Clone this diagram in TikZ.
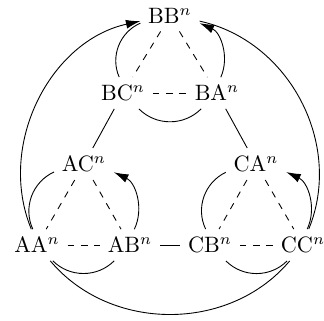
\documentclass[tikz,border=0pt]{standalone}
\usetikzlibrary{arrows.meta}
\begin{document}
\begin{tikzpicture}[x=0.45pt,y=-0.45pt,
  vx/.style={inner sep=0.3333em},
  inner/.style={dashed},
  arr/.style={-{Latex[length=6.5pt,width=4pt]}}]
\useasboundingbox (0,0) rectangle (324,320);
\node[vx] (BB) at (170,16) {BB$^n$};
\node[vx] (BC) at (123,93) {BC$^n$};
\node[vx] (BA) at (217,93) {BA$^n$};
\node[vx] (AC) at (84,164) {AC$^n$};
\node[vx] (AA) at (37,245) {AA$^n$};
\node[vx] (AB) at (130,245) {AB$^n$};
\node[vx] (CA) at (256,164) {CA$^n$};
\node[vx] (CB) at (210,245) {CB$^n$};
\node[vx] (CC) at (303,245) {CC$^n$};
% dashed inner edges
\draw[inner] (BB) -- (BC);
\draw[inner] (BB) -- (BA);
\draw[inner] (BC) -- (BA);
\draw[inner] (AC) -- (AA);
\draw[inner] (AC) -- (AB);
\draw[inner] (AA) -- (AB);
\draw[inner] (CA) -- (CB);
\draw[inner] (CA) -- (CC);
\draw[inner] (CB) -- (CC);
% solid connecting edges
\draw (BC) -- (AC);
\draw (BA) -- (CA);
\draw (AB) -- (CB);
% small arcs
\draw (BC) to[bend left=45] (BB);
\draw[arr] (BA) to[bend right=45] (BB);
\draw (BC) to[bend right=45] (BA);
\draw (AA) to[bend left=45] (AC);
\draw[arr] (AB) to[bend right=45] (AC);
\draw (AA) to[bend right=45] (AB);
\draw (CB) to[bend left=45] (CA);
\draw[arr] (CC) to[bend right=45] (CA);
\draw (CB) to[bend right=45] (CC);
% big arcs
\draw[arr] (AA) to[bend left=50] (BB);
\draw (CC) to[bend right=50] (BB);
\draw (AA) to[bend right=50] (CC);
\end{tikzpicture}
\end{document}
